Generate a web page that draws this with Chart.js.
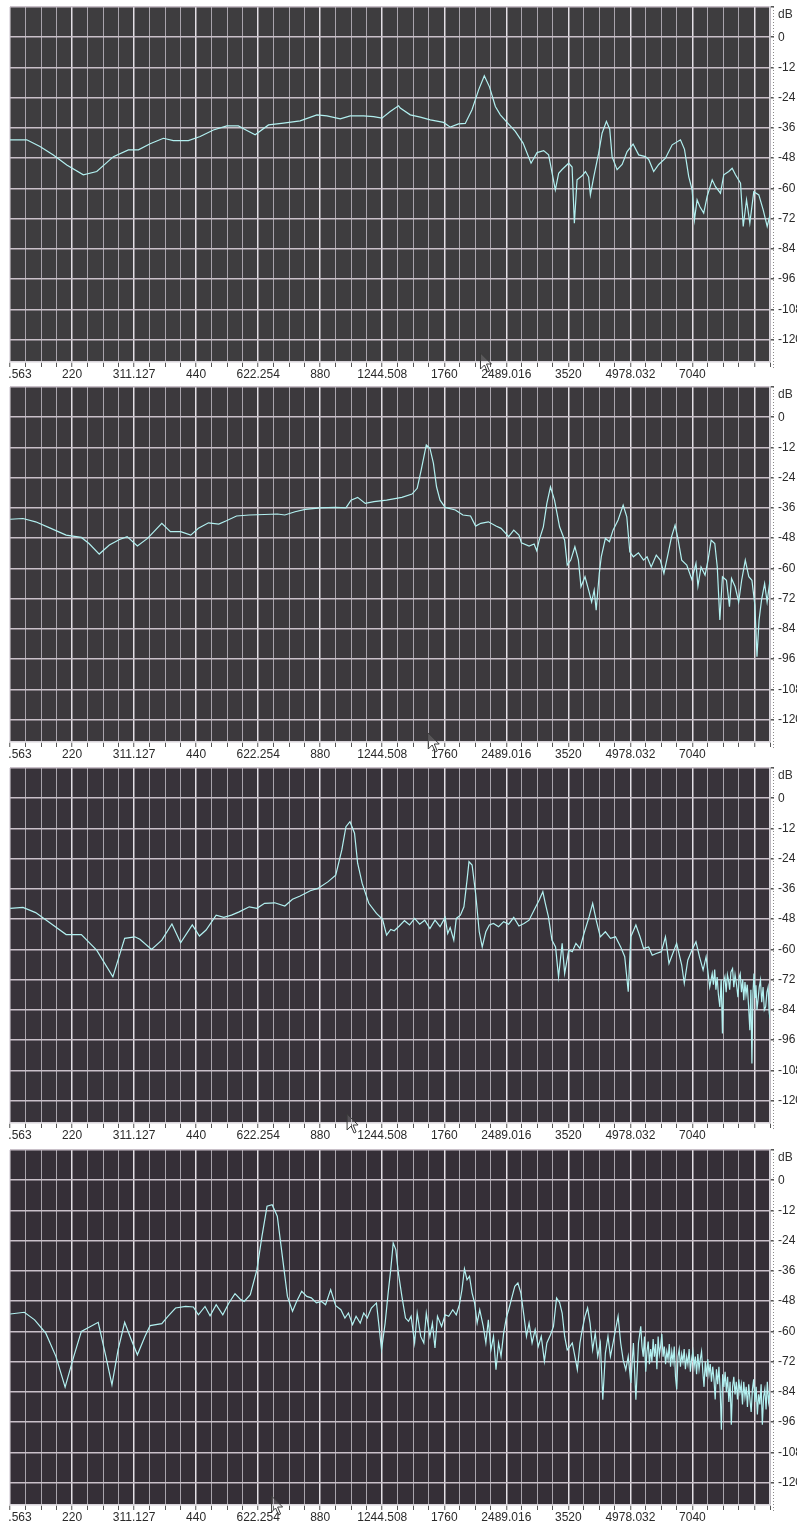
<!DOCTYPE html>
<html>
<head>
<meta charset="utf-8">
<title>Spectrum</title>
<script src="https://cdn.jsdelivr.net/npm/chart.js@4.4.1/dist/chart.umd.min.js"></script>
<style>
  html, body { margin: 0; padding: 0; background: #fff; }
  body { width: 797px; height: 1523px; position: relative; overflow: hidden; }
  canvas.panel { position: absolute; left: 0; }
</style>
</head>
<body>
<canvas id="spec1" class="panel" width="797" height="380" style="top:0px"></canvas>
<canvas id="spec2" class="panel" width="797" height="380" style="top:380px"></canvas>
<canvas id="spec3" class="panel" width="797" height="380" style="top:761px"></canvas>
<canvas id="spec4" class="panel" width="797" height="380" style="top:1143px"></canvas>
<script>
// x axis is pitch in semitones (MIDI note numbers), grid every 1.5 semitones
const pitchMin = 51;        // 155.563 Hz
const pitchMax = 124.5;
const gridStep = 1.5;
const freqLabels = ['155.563', '220', '311.127', '440', '622.254', '880', '1244.508',
                    '1760', '2489.016', '3520', '4978.032', '7040', ''];
const dbTicks = [12, 0, -12, -24, -36, -48, -60, -72, -84, -96, -108, -120];
const dbMin = -128.9;
const dbMax = 12;

// [pitch, dB]
const trace1 = [[51.0,-40.7],[52.62,-40.7],[53.9,-43.4],[55.19,-46.7],[56.49,-50.7],[58.09,-54.6],[59.39,-53.3],[61.0,-47.4],[62.45,-44.7],[63.42,-44.7],
  [64.55,-42.3],[65.84,-40.1],[66.8,-41],[68.25,-41],[69.39,-39.4],[70.67,-36.8],[71.97,-35.2],[73.09,-35.2],[73.91,-37],[74.71,-38.7],
  [76.0,-34.8],[77.45,-34.1],[79.06,-33.2],[80.68,-30.8],[81.65,-31.2],[82.94,-32.4],[83.9,-31.2],[85.19,-31.2],[86.16,-31.5],[86.97,-32.1],
  [87.77,-29.5],[88.58,-27.2],[88.74,-28.1],[89.71,-30.8],[90.68,-31.7],[91.65,-32.8],[92.93,-33.8],[93.58,-35.7],[94.38,-34.4],[95.03,-34.2],
  [95.68,-28.8],[96.32,-20.9],[96.87,-15.3],[97.38,-19.8],[97.94,-27.5],[98.42,-30.8],[99.07,-33.8],[99.87,-37.4],[100.62,-42],[101.39,-50],
  [101.97,-45.8],[102.61,-45],[103.09,-46.7],[103.74,-60.6],[104.06,-54],[104.39,-52.5],[105.03,-50],[105.36,-51.5],[105.58,-73.8],[105.84,-56.6],
  [106.33,-55],[106.65,-53.3],[106.96,-55.5],[107.13,-62.6],[107.45,-55.5],[107.93,-46],[108.26,-38.1],[108.68,-33.4],[109.0,-36.5],[109.23,-47.4],
  [109.71,-52.6],[110.2,-50.5],[110.68,-45.4],[111.26,-42.4],[111.8,-46.7],[112.45,-47.4],[112.77,-48.5],[113.25,-53.3],[113.74,-50.5],[114.39,-48],
  [115.04,-42.7],[115.84,-40.7],[116.23,-44.5],[116.64,-55.3],[116.97,-60.6],[117.19,-72.5],[117.45,-64.5],[117.71,-67.2],[118.09,-69.8],[118.42,-63.2],
  [118.91,-56.6],[119.23,-59.3],[119.71,-61.9],[120.03,-54.6],[120.51,-53.3],[120.84,-52],[121.16,-54.6],[121.65,-57.9],[121.91,-75.1],[122.23,-64.5],
  [122.55,-73.8],[122.93,-61.3],[123.42,-62.6],[123.84,-68.5],[124.23,-75.1],[124.5,-70.5]];

const trace2 = [[51.02,-40.5],[52.25,-40.2],[53.48,-41.5],[54.95,-44.1],[56.43,-46.8],[57.9,-47.7],[58.64,-50.1],[59.63,-54.3],[60.61,-50.7],[61.59,-48.5],
  [62.33,-47.4],[63.32,-51.1],[64.3,-48.1],[65.68,-42.1],[66.51,-45.4],[67.5,-45.4],[68.48,-46.8],[69.22,-44.1],[70.2,-41.9],[71.19,-42.4],
  [71.93,-41.1],[72.91,-39.2],[74.14,-38.8],[75.62,-38.6],[76.85,-38.4],[77.58,-38.8],[78.57,-37.5],[79.55,-36.6],[81.03,-36.0],[82.5,-35.8],
  [83.49,-36.0],[83.98,-32.9],[84.62,-31.8],[85.36,-34.2],[86.2,-33.5],[87.42,-32.9],[88.9,-31.8],[89.88,-30.5],[90.38,-28.2],[90.77,-20.9],
  [91.26,-11.0],[91.61,-12.3],[91.95,-18.3],[92.25,-27.6],[92.59,-32.9],[93.08,-35.8],[94.07,-36.8],[94.8,-38.8],[95.54,-39.2],[96.03,-43.2],
  [96.53,-42.1],[97.26,-41.5],[98.0,-43.2],[98.49,-44.1],[99.23,-47.4],[99.72,-44.8],[100.22,-46.8],[100.46,-49.8],[101.2,-51.1],[101.69,-50.3],
  [101.94,-53.0],[102.18,-48.8],[102.58,-43.5],[102.92,-34.2],[103.27,-27.6],[103.66,-32.9],[104.15,-43.5],[104.64,-48.8],[104.89,-58.7],[105.23,-56.7],
  [105.63,-51.4],[105.97,-56.7],[106.22,-67.3],[106.61,-63.3],[106.96,-68.6],[107.25,-73.3],[107.5,-68.6],[107.69,-76.6],[107.99,-62.0],[108.18,-55.4],
  [108.58,-48.1],[108.97,-49.4],[109.32,-44.8],[109.81,-40.8],[110.3,-34.9],[110.65,-39.5],[110.94,-53.4],[111.29,-55.4],[111.78,-53.8],[112.27,-56.7],
  [112.61,-55.4],[113.01,-59.4],[113.5,-54.7],[113.89,-56.7],[114.24,-62.0],[114.58,-55.4],[114.98,-47.4],[115.32,-42.8],[115.62,-48.8],[115.96,-56.7],
  [116.45,-58.7],[116.94,-64.4],[117.34,-58.0],[117.53,-67.0],[117.83,-59.4],[118.22,-62.7],[118.52,-56.4],[118.81,-48.8],[119.16,-50.1],[119.4,-59.4],
  [119.65,-80.5],[119.9,-63.3],[120.29,-64.7],[120.58,-75.2],[120.78,-64.0],[121.13,-67.3],[121.47,-73.3],[121.76,-64.7],[122.11,-56.7],[122.45,-63.3],
  [122.75,-64.7],[123.04,-74.6],[123.24,-95.1],[123.44,-80.5],[123.68,-72.6],[123.98,-66.0],[124.22,-73.3],[124.5,-64.7]];

const trace3 = [[51.02,-43.7],[52.25,-43.3],[53.48,-45.4],[54.95,-49.7],[56.43,-54.1],[57.9,-54.1],[59.38,-60.3],[60.95,-70.9],[62.09,-55.6],[63.07,-55.0],
  [63.56,-56.0],[64.69,-60.0],[65.68,-56.3],[66.66,-49.9],[67.5,-57.4],[68.63,-50.3],[69.32,-54.7],[69.96,-52.3],[70.94,-46.4],[71.68,-47.3],
  [72.42,-46.4],[73.16,-45.1],[74.14,-43.1],[74.88,-43.7],[75.62,-41.7],[76.6,-41.5],[77.58,-42.8],[78.32,-40.1],[79.06,-38.8],[80.04,-36.7],
  [80.78,-35.8],[81.77,-33.1],[82.5,-30.5],[83.09,-20.5],[83.49,-11.3],[83.88,-9.3],[84.32,-13.9],[84.62,-25.8],[85.06,-33.8],[85.7,-41.7],
  [86.44,-45.7],[87.03,-48.1],[87.42,-54.3],[87.82,-52.1],[88.16,-52.6],[88.65,-50.7],[89.15,-48.6],[89.64,-50.3],[90.13,-47.7],[90.62,-50.0],
  [91.11,-48.4],[91.61,-51.7],[92.1,-48.4],[92.59,-51.0],[93.08,-47.3],[93.33,-53.7],[93.57,-51.3],[93.92,-56.3],[94.16,-47.7],[94.56,-46.4],
  [94.9,-43.1],[95.2,-32.5],[95.39,-25.2],[95.69,-26.5],[96.03,-37.8],[96.38,-53.0],[96.67,-59.0],[97.02,-53.0],[97.36,-50.3],[97.76,-49.7],
  [98.25,-51.0],[98.74,-49.0],[99.23,-50.0],[99.72,-47.3],[100.22,-50.7],[100.71,-49.7],[101.2,-48.4],[101.69,-44.4],[102.18,-40.4],[102.53,-37.1],
  [102.77,-41.7],[103.07,-47.0],[103.41,-56.3],[103.76,-59.0],[104.05,-70.9],[104.4,-57.6],[104.64,-69.6],[105.04,-60.3],[105.38,-60.9],[105.73,-57.6],
  [106.12,-59.6],[106.51,-53.7],[107.01,-47.0],[107.35,-41.7],[107.69,-48.4],[108.09,-55.0],[108.58,-53.0],[109.07,-55.6],[109.56,-55.0],[110.06,-59.0],
  [110.45,-62.9],[110.79,-76.8],[111.04,-55.0],[111.53,-50.3],[111.93,-55.0],[112.27,-59.6],[112.76,-59.0],[113.11,-62.3],[113.5,-61.6],[114.0,-60.9],
  [114.39,-55.0],[114.73,-65.6],[114.98,-62.9],[115.47,-57.6],[115.96,-66.2],[116.21,-73.5],[116.55,-64.3],[116.94,-60.3],[117.34,-57.0],[117.68,-62.9],
  [118.03,-68.2],[118.32,-62.9],[118.67,-74.9],[118.91,-69.6],[119.03,-74],[119.15,-68],[119.27,-76],[119.39,-71],[119.51,-78],[119.65,-82.8],
  [119.78,-72],[119.9,-93.4],[120.02,-73],[120.14,-70.9],[120.26,-77],[120.38,-70],[120.49,-72.2],[120.6,-76],[120.72,-69],[120.88,-67.6],
  [121.0,-75],[121.12,-70],[121.27,-74.2],[121.4,-79],[121.52,-71],[121.62,-69.6],[121.74,-77],[121.86,-72],[121.96,-80.2],[122.08,-73],
  [122.18,-78],[122.3,-74],[122.42,-82],[122.55,-92.1],[122.65,-76],[122.75,-105.3],[122.85,-78],[122.95,-69.6],[123.05,-79],[123.14,-74.2],
  [123.24,-84],[123.34,-80.2],[123.46,-75],[123.58,-72.2],[123.7,-81],[123.83,-74.9],[123.95,-84],[124.08,-82.8],[124.2,-77],[124.32,-74.9],
  [124.42,-85],[124.5,-87.4]];

const trace4 = [[51.02,-53.1],[52.39,-52.4],[53.38,-55.4],[54.46,-60.7],[55.44,-69.9],[56.33,-82.1],[57.17,-69.9],[57.9,-60.0],[59.53,-56.4],[60.27,-69.9],
  [60.86,-81.2],[61.45,-67.3],[62.09,-56.4],[62.73,-63.3],[63.32,-69.3],[64.05,-62.0],[64.55,-57.7],[65.68,-56.9],[66.27,-54.0],[67.01,-50.7],
  [67.99,-50.1],[68.73,-50.3],[69.22,-53.4],[69.86,-50.1],[70.35,-53.8],[70.94,-49.4],[71.58,-53.4],[72.17,-48.7],[72.76,-45.0],[73.25,-47.1],
  [73.65,-48.1],[74.24,-45.4],[74.88,-35.5],[75.37,-22.2],[75.86,-10.3],[76.35,-9.7],[76.85,-14.3],[77.34,-30.2],[77.83,-46.1],[78.32,-52.0],
  [78.72,-48.1],[79.21,-44.1],[79.7,-46.1],[80.14,-46.7],[80.63,-48.7],[81.13,-48.1],[81.52,-49.4],[82.01,-43.4],[82.5,-49.8],[83.0,-51.4],
  [83.39,-54.7],[83.73,-52.7],[84.13,-57.3],[84.47,-54.0],[84.87,-56.7],[85.21,-52.7],[85.55,-54.7],[85.95,-50.7],[86.44,-48.7],[86.69,-58.0],
  [86.93,-67.3],[87.28,-56.7],[87.57,-44.8],[87.82,-35.5],[88.06,-24.9],[88.31,-27.5],[88.56,-36.8],[88.9,-46.1],[89.25,-54.7],[89.54,-56.0],
  [89.79,-54.0],[90.13,-64.6],[90.38,-52.7],[90.72,-62.0],[91.02,-64.6],[91.26,-52.7],[91.61,-62.0],[91.85,-56.7],[92.1,-66.6],[92.34,-54.0],
  [92.74,-58.0],[93.08,-53.4],[93.43,-54.0],[93.82,-51.4],[94.16,-53.4],[94.46,-49.4],[94.71,-43.4],[94.95,-35.2],[95.2,-39.5],[95.44,-38.1],
  [95.69,-44.8],[95.93,-48.7],[96.18,-56.7],[96.43,-51.4],[96.77,-58.0],[97.02,-64.6],[97.26,-55.4],[97.51,-67.3],[97.76,-62.0],[98.0,-75.2],
  [98.25,-64.6],[98.49,-69.9],[98.74,-60.7],[98.99,-54.7],[99.23,-51.4],[99.48,-47.4],[99.82,-42.1],[100.12,-40.8],[100.41,-44.8],[100.71,-54.0],
  [100.95,-62.0],[101.2,-56.7],[101.49,-64.6],[101.79,-59.3],[102.09,-66.0],[102.38,-62.0],[102.68,-71.9],[102.92,-64.6],[103.27,-61.3],[103.56,-58.0],
  [103.86,-46.7],[104.15,-48.5],[104.4,-52.7],[104.64,-62.0],[104.89,-67.3],[105.14,-66.0],[105.38,-64.6],[105.63,-69.9],[105.87,-75.2],[106.12,-64.6],
  [106.37,-58.7],[106.61,-54.0],[106.86,-50.7],[107.1,-56.7],[107.35,-67.3],[107.6,-60.7],[107.84,-69.9],[108.09,-64.6],[108.33,-87.1],[108.58,-68.6],
  [108.83,-62.0],[109.07,-69.9],[109.32,-64.6],[109.56,-59.3],[109.81,-54.0],[110.06,-64.6],[110.3,-71.3],[110.55,-75.2],[110.79,-69.9],[111.04,-80.5],
  [111.29,-64.6],[111.53,-87.1],[111.78,-64.6],[112.0,-58],[112.12,-66],[112.24,-70],[112.36,-62],[112.48,-76],[112.6,-68],[112.72,-64],
  [112.84,-73],[112.96,-67],[113.08,-72],[113.2,-63],[113.32,-70],[113.44,-65],[113.56,-75],[113.68,-62],[113.8,-69],[113.92,-66],
  [114.04,-61],[114.16,-70],[114.28,-66],[114.4,-73],[114.52,-68],[114.64,-71],[114.76,-65],[114.88,-74],[115.0,-68],[115.12,-72],
  [115.24,-66],[115.36,-78],[115.48,-83],[115.6,-70],[115.72,-67],[115.84,-74],[115.96,-69],[116.08,-72],[116.2,-67],[116.32,-75],
  [116.44,-70],[116.56,-73],[116.68,-67],[116.8,-76],[116.92,-71],[117.04,-68],[117.16,-74],[117.28,-70],[117.4,-77],[117.52,-69],
  [117.64,-75],[117.76,-71],[117.88,-68],[118.0,-76],[118.12,-82],[118.24,-72],[118.36,-78],[118.48,-71],[118.6,-77],[118.72,-73],
  [118.84,-80],[118.96,-74],[119.08,-79],[119.2,-87],[119.32,-75],[119.44,-81],[119.56,-74],[119.68,-83],[119.8,-99],[119.92,-77],
  [120.04,-82],[120.16,-76],[120.28,-84],[120.4,-78],[120.52,-88],[120.64,-80],[120.76,-97],[120.88,-82],[121.0,-78],[121.12,-85],
  [121.24,-80],[121.36,-87],[121.48,-79],[121.6,-84],[121.72,-81],[121.84,-89],[121.96,-80],[122.08,-86],[122.2,-82],[122.32,-90],
  [122.44,-81],[122.56,-87],[122.68,-92],[122.8,-83],[122.92,-79],[123.04,-88],[123.16,-82],[123.28,-93],[123.4,-85],[123.52,-89],
  [123.64,-81],[123.76,-97],[123.88,-86],[124.0,-83],[124.12,-91],[124.24,-80],[124.36,-88],[124.5,-84]];

// mouse pointer left on each capture
const cursorPitch = [96.5, 91.45, 83.6, 76.3];
const plotBg = ['#3e3d3f', '#3c393d', '#38333a', '#352f37'];

const FONT = { family: "'Liberation Sans', Arial, sans-serif", size: 12 };

const framePlugin = {
  id: 'frame',
  beforeDraw(chart, args, opts) {
    const { ctx, chartArea: a } = chart;
    ctx.save();
    ctx.fillStyle = opts.bg;
    ctx.fillRect(a.left, a.top, a.right - a.left, a.bottom - a.top);
    ctx.restore();
  },
  afterDraw(chart, args, opts) {
    const { ctx, chartArea: a } = chart;
    ctx.save();
    // the readout strip starts at the plot edge, so the first frequency is cut
    ctx.fillStyle = '#fff';
    ctx.fillRect(0, a.bottom + 6, a.left - 1.6, 14);

    // dotted ruler beside the dB labels
    ctx.strokeStyle = '#8a8a8a';
    ctx.lineWidth = 1;
    ctx.setLineDash([1, 2]);
    ctx.beginPath();
    ctx.moveTo(a.right + 3.5, a.top);
    ctx.lineTo(a.right + 3.5, a.bottom + 6);
    ctx.stroke();
    ctx.setLineDash([]);
    ctx.fillStyle = '#333';
    ctx.font = `${FONT.size}px ${FONT.family}`;
    ctx.textBaseline = 'middle';
    ctx.fillText('dB', a.right + 8, a.top + 8);

    // pointer arrow
    const x = chart.scales.x.getPixelForValue(opts.cursor);
    const y = a.bottom - 9;
    ctx.strokeStyle = '#3a3a3a';
    ctx.fillStyle = 'rgba(255,255,255,0.15)';
    ctx.beginPath();
    ctx.moveTo(x, y);
    ctx.lineTo(x, y + 16);
    ctx.lineTo(x + 4, y + 12);
    ctx.lineTo(x + 7, y + 19);
    ctx.lineTo(x + 9, y + 18);
    ctx.lineTo(x + 6, y + 11);
    ctx.lineTo(x + 11, y + 11);
    ctx.closePath();
    ctx.fill();
    ctx.stroke();
    ctx.restore();
  }
};

function zeroPadding(scale) {
  scale.paddingLeft = 0;
  scale.paddingRight = 0;
  scale.paddingTop = 0;
  scale.paddingBottom = 0;
}

function makePanel(id, trace, idx) {
  const ctx = document.getElementById(id).getContext('2d');
  return new Chart(ctx, {
    type: 'line',
    data: {
      datasets: [{
        data: trace.map(([p, db]) => ({ x: p, y: db })),
        borderColor: '#b2f0f0',
        borderWidth: 1.2,
        pointRadius: 0,
        tension: 0,
        fill: false
      }]
    },
    options: {
      responsive: false,
      animation: false,
      devicePixelRatio: 1,
      events: [],
      layout: { padding: { top: 7, left: 10, right: 0, bottom: 0 } },
      plugins: {
        legend: { display: false },
        tooltip: { enabled: false },
        frame: { bg: plotBg[idx], cursor: cursorPitch[idx] }
      },
      scales: {
        x: {
          type: 'linear',
          min: pitchMin,
          max: pitchMax,
          afterBuildTicks: (scale) => {
            const ticks = [];
            for (let k = 0; pitchMin + k * gridStep <= pitchMax + 1e-6; k++) {
              ticks.push({ value: pitchMin + k * gridStep });
            }
            scale.ticks = ticks;
          },
          afterFit: (scale) => { scale.height = 18; zeroPadding(scale); },
          ticks: {
            autoSkip: false,
            maxRotation: 0,
            minRotation: 0,
            padding: 0,
            color: '#2a2a2a',
            font: FONT,
            callback: (v, i) => (i % 4 === 0 ? freqLabels[i / 4] : '')
          },
          grid: {
            color: (c) => (c.index % 4 === 0 ? '#e4e0e6' : '#a9a4ac'),
            lineWidth: (c) => (c.index % 4 === 0 ? 1.5 : 1),
            tickColor: '#555',
            tickLength: 5,
            tickWidth: 1
          },
          border: { display: true, color: '#d8d4da', width: 1.5 }
        },
        y: {
          type: 'linear',
          position: 'right',
          min: dbMin,
          max: dbMax,
          afterBuildTicks: (scale) => { scale.ticks = dbTicks.map(v => ({ value: v })); },
          afterFit: (scale) => { scale.width = 27; zeroPadding(scale); },
          ticks: {
            padding: 4,
            color: '#2a2a2a',
            font: FONT,
            callback: (v) => (v > 0 ? '' : String(v))
          },
          grid: {
            color: '#c9c0c9',
            lineWidth: 1.5,
            tickColor: '#555',
            tickLength: 4
          },
          border: { display: true, color: '#d8d4da', width: 1.5 }
        }
      }
    },
    plugins: [framePlugin]
  });
}

makePanel('spec1', trace1, 0);
makePanel('spec2', trace2, 1);
makePanel('spec3', trace3, 2);
makePanel('spec4', trace4, 3);
</script>
</body>
</html>
